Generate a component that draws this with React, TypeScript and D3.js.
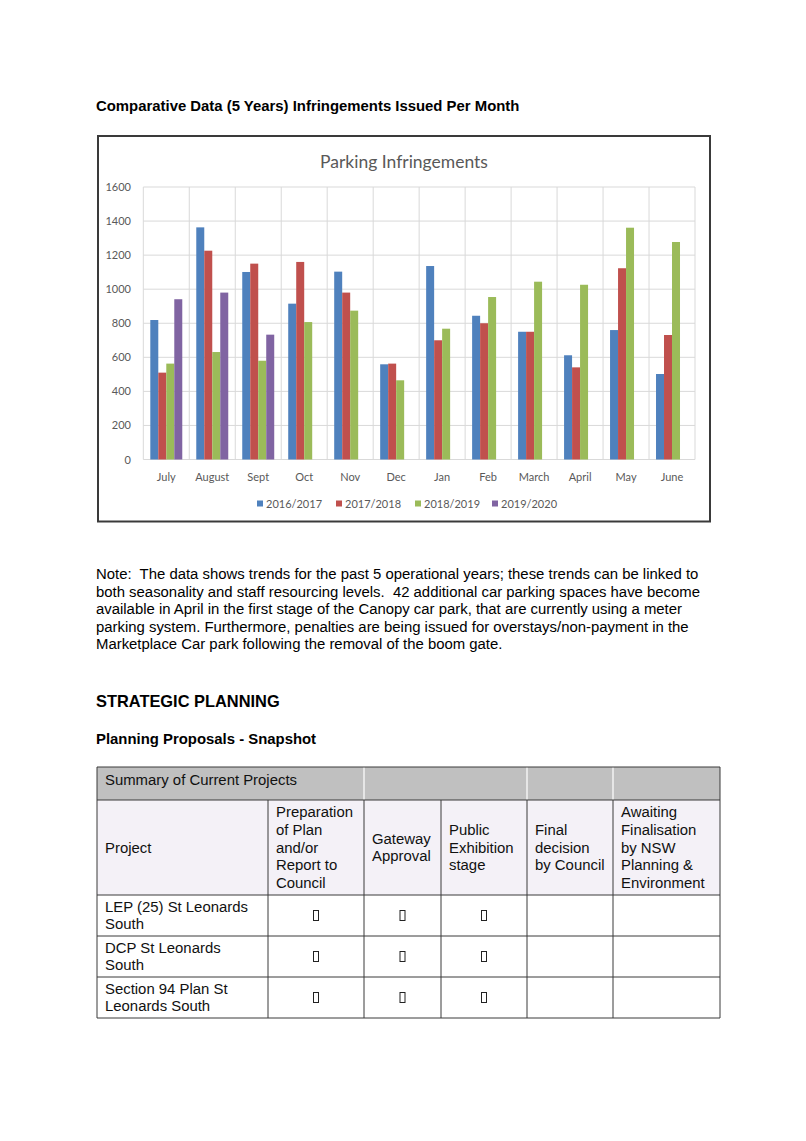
import React from "react";
import * as d3 from "d3";

const months = ["July", "August", "Sept", "Oct", "Nov", "Dec", "Jan", "Feb", "March", "April", "May", "June"];
const seriesNames = ["2016/2017", "2017/2018", "2018/2019", "2019/2020"];
const s2016 = [819, 1363, 1101, 915, 1103, 559, 1136, 844, 750, 612, 760, 502];
const s2017 = [510, 1226, 1150, 1160, 980, 563, 700, 800, 750, 541, 1123, 731];
const s2018 = [563, 631, 580, 807, 874, 465, 768, 954, 1044, 1026, 1361, 1277];
const s2019: (number | null)[] = [941, 980, 733, null, null, null, null, null, null, null, null, null];
const yTicks = [0, 200, 400, 600, 800, 1000, 1200, 1400, 1600];
const colors = ["#4f81bd", "#c0504d", "#9bbb59", "#8064a2"];

const noteLines = [
  "Note:  The data shows trends for the past 5 operational years; these trends can be linked to",
  "both seasonality and staff resourcing levels.  42 additional car parking spaces have become",
  "available in April in the first stage of the Canopy car park, that are currently using a meter",
  "parking system. Furthermore, penalties are being issued for overstays/non-payment in the",
  "Marketplace Car park following the removal of the boom gate.",
];

const headerCells = [
  ["Project"],
  ["Preparation", "of Plan", "and/or", "Report to", "Council"],
  ["Gateway", "Approval"],
  ["Public", "Exhibition", "stage"],
  ["Final", "decision", "by Council"],
  ["Awaiting", "Finalisation", "by NSW", "Planning &", "Environment"],
];
const projects = [
  ["LEP (25) St Leonards", "South"],
  ["DCP St Leonards", "South"],
  ["Section 94 Plan St", "Leonards South"],
];
const colEdges = [97, 268, 364, 441, 527, 613, 720];
const rowEdges = [767, 800, 895, 936, 977, 1018];

const ARIAL = "'Liberation Sans', Arial, sans-serif";
const CAL = "Lato, 'Open Sans', sans-serif";
const BODY = 14.9;

export default function App() {
  const plotL = 143.3, plotR = 695, plotT = 187, plotB = 459.5;
  const x = d3.scaleBand<string>().domain(months).range([plotL, plotR]).padding(0);
  const xi = d3.scaleBand<string>().domain(seriesNames).range([0, x.bandwidth()]).paddingInner(0).paddingOuter(0.875);
  const y = d3.scaleLinear().domain([0, 1600]).range([plotB, plotT]);
  const allSeries = [s2016, s2017, s2018, s2019];
  const legendX = [257, 336, 415, 492];
  const lineH = 17.6;

  return (
    <svg width={806} height={1141} style={{ position: "absolute", left: 0, top: 0, background: "#fff" }}>
      <rect x={0} y={0} width={806} height={1141} fill="#fff" />
      <text x={96} y={111} fontFamily={ARIAL} fontWeight="bold" fontSize={14.9} fill="#000">
        Comparative Data (5 Years) Infringements Issued Per Month
      </text>

      {/* chart frame */}
      <rect x={98} y={136} width={612} height={385.5} fill="#fff" stroke="#3a3a3a" strokeWidth={2} />
      <text x={404} y={168} textAnchor="middle" fontFamily={CAL} fontSize={17.5} fill="#595959">
        Parking Infringements
      </text>

      {yTicks.map((t) => (
        <line key={"h" + t} x1={plotL} x2={plotR} y1={y(t)} y2={y(t)} stroke="#d9d9d9" strokeWidth={1} />
      ))}
      {months.map((m) => (
        <line key={"v" + m} x1={x(m)!} x2={x(m)!} y1={plotT} y2={plotB} stroke="#d9d9d9" strokeWidth={1} />
      ))}
      <line x1={plotR} x2={plotR} y1={plotT} y2={plotB} stroke="#d9d9d9" strokeWidth={1} />

      {yTicks.map((t) => (
        <text key={"yt" + t} x={131} y={y(t) + 4} textAnchor="end" fontFamily={CAL} fontSize={11} fill="#595959">
          {t}
        </text>
      ))}

      {allSeries.map((s, si) =>
        s.map((v, mi) =>
          v == null ? null : (
            <rect
              key={si + "-" + mi}
              x={x(months[mi])! + xi(seriesNames[si])!}
              y={y(v)}
              width={xi.bandwidth()}
              height={y(0) - y(v)}
              fill={colors[si]}
            />
          )
        )
      )}

      {months.map((m) => (
        <text key={"xt" + m} x={x(m)! + x.bandwidth() / 2} y={481} textAnchor="middle" fontFamily={CAL} fontSize={11} fill="#595959">
          {m}
        </text>
      ))}

      {seriesNames.map((n, i) => (
        <g key={"lg" + n}>
          <rect x={legendX[i]} y={500.5} width={6} height={6} fill={colors[i]} />
          <text x={legendX[i] + 9} y={508} fontFamily={CAL} fontSize={11} fill="#595959">
            {n}
          </text>
        </g>
      ))}

      {noteLines.map((l, i) => (
        <text key={"n" + i} x={96} y={579 + i * 17.5} fontFamily={ARIAL} fontSize={BODY} fill="#000" style={{ whiteSpace: "pre" }}>
          {l}
        </text>
      ))}

      <text x={96} y={707} fontFamily={ARIAL} fontWeight="bold" fontSize={16.4} fill="#000">
        STRATEGIC PLANNING
      </text>
      <text x={96} y={744} fontFamily={ARIAL} fontWeight="bold" fontSize={14.9} fill="#000">
        Planning Proposals - Snapshot
      </text>

      {/* table */}
      <rect x={colEdges[0]} y={rowEdges[0]} width={colEdges[6] - colEdges[0]} height={rowEdges[1] - rowEdges[0]} fill="#c0c0c0" />
      <rect x={colEdges[0]} y={rowEdges[1]} width={colEdges[6] - colEdges[0]} height={rowEdges[2] - rowEdges[1]} fill="#f4f1f7" />
      {[364, 527, 613].map((cx) => (
        <line key={"sep" + cx} x1={cx} x2={cx} y1={rowEdges[0]} y2={rowEdges[1]} stroke="#ffffff" strokeWidth={1.2} />
      ))}
      {colEdges.map((cx, i) => (
        <line key={"c" + i} x1={cx} x2={cx} y1={i === 0 || i === 6 ? rowEdges[0] : rowEdges[1]} y2={rowEdges[5]} stroke="#3a3a3a" strokeWidth={1} />
      ))}
      {rowEdges.map((ry, i) => (
        <line key={"r" + i} x1={colEdges[0]} x2={colEdges[6]} y1={ry} y2={ry} stroke="#3a3a3a" strokeWidth={1} />
      ))}
      <text x={105} y={785} fontFamily={ARIAL} fontSize={BODY} fill="#111">
        Summary of Current Projects
      </text>
      {headerCells.map((lines, ci) => {
        const mid = (rowEdges[1] + rowEdges[2]) / 2;
        const start = mid - ((lines.length - 1) * lineH) / 2;
        return lines.map((l, li) => (
          <text key={"hc" + ci + li} x={colEdges[ci] + 8} y={start + li * lineH + 5} fontFamily={ARIAL} fontSize={BODY} fill="#111">
            {l}
          </text>
        ));
      })}
      {projects.map((lines, ri) => {
        const mid = (rowEdges[ri + 2] + rowEdges[ri + 3]) / 2;
        return (
          <g key={"p" + ri}>
            {lines.map((l, li) => (
              <text key={li} x={105} y={mid - lineH / 2 + li * lineH + 5} fontFamily={ARIAL} fontSize={BODY} fill="#111">
                {l}
              </text>
            ))}
            {[1, 2, 3].map((ci) => (
              <rect
                key={"b" + ci}
                x={(colEdges[ci] + colEdges[ci + 1]) / 2 - 2.5}
                y={mid - 5}
                width={5}
                height={10}
                fill="none"
                stroke="#222"
                strokeWidth={1}
              />
            ))}
          </g>
        );
      })}
    </svg>
  );
}
